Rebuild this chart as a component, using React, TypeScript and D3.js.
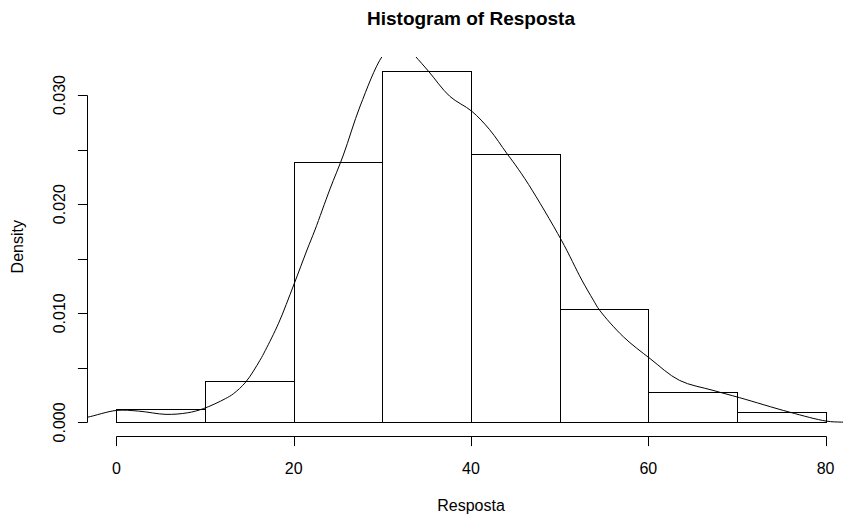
import { useEffect } from 'react';
import * as d3 from 'd3';

const breaks = [0, 10, 20, 30, 40, 50, 60, 70, 80]
const densities = [0.0012, 0.00377, 0.0239, 0.0322, 0.0246, 0.0104, 0.00278, 0.00092]

// density curve
const curveX = [-4, -3.2, 0, 2.5, 5.6, 8, 9.8, 12.3, 13.2, 14.6, 16.2, 16.8, 18.3, 20, 21.5, 22.4, 24.1, 25.6, 27.5, 30, 31.5, 32.5, 33.7, 35.2, 37.6, 40.1, 42.1, 44, 45, 46.5, 50.2, 52.5, 53.8, 54.5, 57.2, 60.2, 63.5, 67.3, 70.3, 75.9, 80.1, 81.8, 84]
const curveY = [0.0004, 0.00049, 0.0011, 0.00104, 0.00074, 0.00088, 0.00126, 0.00218, 0.00263, 0.00371, 0.0057, 0.0066, 0.0091, 0.01259, 0.0158, 0.01764, 0.0214, 0.0245, 0.029, 0.03357, 0.0348, 0.0346, 0.03357, 0.03219, 0.02989, 0.02851, 0.02683, 0.0247, 0.0236, 0.0218, 0.0167, 0.01305, 0.01121, 0.01029, 0.00784, 0.00585, 0.00386, 0.00294, 0.00227, 0.00095, 0.00012, 0.00003, 0.00001]

const xTicks = [0, 20, 40, 60, 80]
const yTicks = [0, 0.005, 0.01, 0.015, 0.02, 0.025, 0.03]
const yLabels = [0, 0.01, 0.02, 0.03]

const title = 'Histogram of Resposta'
const xTitle = 'Resposta'
const yTitle = 'Density'

function App() {
  useEffect(() => {
    drawHist()
    // eslint-disable-next-line
  }, [])

  function drawHist() {
    const config = { width: 843, height: 518, left: 88, right: 854, top: 57, bottom: 436.5 }
    const font = '"Liberation Sans", Arial, sans-serif'
    const ymax = d3.max(densities)

    const xScale = d3.scaleLinear()
      .domain([-0.04 * 80, 1.04 * 80])
      .range([config.left, config.right])
    const yScale = d3.scaleLinear()
      .domain([-0.04 * ymax, 1.04 * ymax])
      .range([config.bottom, config.top])

    const svg = d3.select('#hist-svg')
    svg.selectAll('*').remove()

    svg.append('defs').append('clipPath').attr('id', 'plot-clip')
      .append('rect')
      .attr('x', config.left).attr('y', config.top)
      .attr('width', config.right - config.left)
      .attr('height', config.bottom - config.top)

    // bars
    const bins = densities.map((d, i) => ({ x0: breaks[i], x1: breaks[i + 1], d }))
    svg.append('g').selectAll('rect')
      .data(bins)
      .join('rect')
      .attr('x', b => Math.round(xScale(b.x0)) + 0.5)
      .attr('y', b => Math.round(yScale(b.d)) + 0.5)
      .attr('width', b => Math.round(xScale(b.x1)) - Math.round(xScale(b.x0)))
      .attr('height', b => Math.round(yScale(0)) - Math.round(yScale(b.d)))
      .attr('fill', 'white')
      .attr('stroke', 'black')
      .attr('stroke-width', 1)

    // density line
    const pts = curveX.map((x, i) => [x, curveY[i]])
    const line = d3.line()
      .x(d => xScale(d[0]))
      .y(d => yScale(d[1]))
      .curve(d3.curveCatmullRom)
    svg.append('path')
      .datum(pts)
      .attr('d', line)
      .attr('clip-path', 'url(#plot-clip)')
      .attr('fill', 'none')
      .attr('stroke', 'black')
      .attr('stroke-width', 1)

    // x axis
    const xAxisY = config.bottom
    const gx = svg.append('g')
    gx.append('line')
      .attr('x1', Math.round(xScale(0)) + 0.5).attr('x2', Math.round(xScale(80)) + 0.5)
      .attr('y1', xAxisY).attr('y2', xAxisY)
      .attr('stroke', 'black')
    gx.selectAll('line.tick').data(xTicks).join('line').attr('class', 'tick')
      .attr('x1', d => Math.round(xScale(d)) + 0.5).attr('x2', d => Math.round(xScale(d)) + 0.5)
      .attr('y1', xAxisY).attr('y2', xAxisY + 9.6)
      .attr('stroke', 'black')
    gx.selectAll('text').data(xTicks).join('text')
      .attr('x', d => xScale(d)).attr('y', 474)
      .attr('text-anchor', 'middle')
      .style('font-family', font).style('font-size', '16px')
      .text(d => d)

    // y axis
    const yAxisX = config.left - 0.5
    const gy = svg.append('g')
    gy.append('line')
      .attr('x1', yAxisX).attr('x2', yAxisX)
      .attr('y1', Math.round(yScale(0)) + 0.5).attr('y2', Math.round(yScale(0.03)) + 0.5)
      .attr('stroke', 'black')
    gy.selectAll('line.tick').data(yTicks).join('line').attr('class', 'tick')
      .attr('x1', yAxisX - 9.6).attr('x2', yAxisX)
      .attr('y1', d => Math.round(yScale(d)) + 0.5).attr('y2', d => Math.round(yScale(d)) + 0.5)
      .attr('stroke', 'black')
    gy.selectAll('text').data(yLabels).join('text')
      .attr('transform', d => `translate(65, ${yScale(d)}) rotate(-90)`)
      .attr('text-anchor', 'middle')
      .style('font-family', font).style('font-size', '16px')
      .text(d => d3.format('.3f')(d))

    // titles
    svg.append('text')
      .attr('x', (config.left + config.right) / 2).attr('y', 25)
      .attr('text-anchor', 'middle')
      .style('font-family', font).style('font-size', '19px').style('font-weight', 'bold')
      .text(title)
    svg.append('text')
      .attr('x', (config.left + config.right) / 2).attr('y', 511)
      .attr('text-anchor', 'middle')
      .style('font-family', font).style('font-size', '16px')
      .text(xTitle)
    svg.append('text')
      .attr('transform', `translate(23, ${(config.top + config.bottom) / 2}) rotate(-90)`)
      .attr('text-anchor', 'middle')
      .style('font-family', font).style('font-size', '16px')
      .text(yTitle)
  }

  return (
    <div>
      <svg id='hist-svg' width={843} height={518}
        style={{ position: 'absolute', left: 0, top: 0, background: 'white' }}>
      </svg>
    </div>
  )
}

export default App
